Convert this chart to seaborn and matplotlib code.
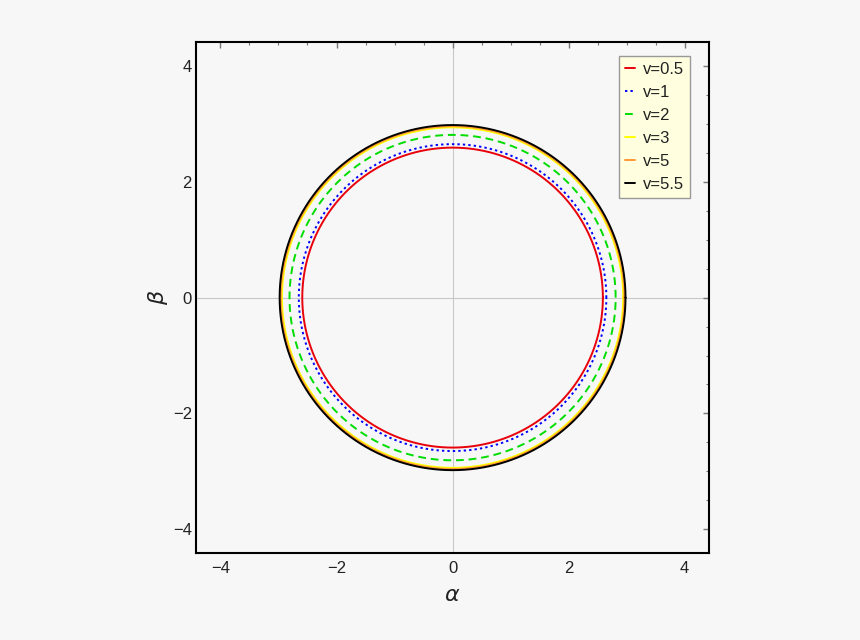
import numpy as np
import pandas as pd
import matplotlib
matplotlib.use("Agg")
import matplotlib.pyplot as plt
import seaborn as sns
from matplotlib.ticker import MultipleLocator

labels = ["v=0.5", "v=1", "v=2", "v=3", "v=5", "v=5.5"]
radii = [2.59, 2.65, 2.81, 2.94, 2.96, 2.98]
colors = ["#e8000b", "#0000ff", "#00dd00", "#ffff00", "#ff9933", "#000000"]
styles = ["-", (0, (1.2, 1.6)), (0, (4, 2.5)), "-", "-", "-"]
ticks = [-4, -2, 0, 2, 4]
tick_labels = ["\u22124", "\u22122", "0", "2", "4"]

sns.set_theme(style="white")
plt.rcParams['font.family'] = ['Liberation Sans', 'DejaVu Sans']
bg = "#f7f7f7"
fig = plt.figure(figsize=(8.6, 6.4), dpi=100, facecolor=bg)
ax = fig.add_axes([0.228, 0.136, 0.5965, 0.798])
ax.set_facecolor(bg)

ax.axhline(0, color="#c8c8c8", lw=0.8, zorder=0)
ax.axvline(0, color="#c8c8c8", lw=0.8, zorder=0)

t = np.linspace(0, 2 * np.pi, 721)
for lab, r, c, ls in zip(labels, radii, colors, styles):
    df = pd.DataFrame({"x": r * np.cos(t), "y": r * np.sin(t)})
    sns.lineplot(data=df, x="x", y="y", sort=False, estimator=None, ax=ax,
                 color=c, linestyle=ls, lw=1.4, label=lab)

ax.set_xlim(-4.42, 4.42)
ax.set_ylim(-4.41, 4.41)
ax.set_xticks(ticks)
ax.set_yticks(ticks)
ax.set_xticklabels(tick_labels)
ax.set_yticklabels(tick_labels)
ax.xaxis.set_minor_locator(MultipleLocator(0.5))
ax.yaxis.set_minor_locator(MultipleLocator(0.5))
ax.tick_params(which="major", direction="in", length=4, width=1, color="#777777",
               labelsize=12, labelcolor="#222222", top=True, right=True,
               labeltop=False, labelright=False)
ax.tick_params(axis="x", which="major", pad=6)
ax.tick_params(axis="y", which="major", pad=3)
ax.tick_params(which="minor", direction="in", length=2.5, width=0.8, color="#777777",
               top=True, right=True)
for s in ax.spines.values():
    s.set_color("black")
    s.set_linewidth(1.5)

ax.set_xlabel(r"$\alpha$", fontsize=16, labelpad=6, color="#222222")
ax.set_ylabel(r"$\beta$", fontsize=16, labelpad=2, color="#222222")

leg = ax.legend(loc="upper right", bbox_to_anchor=(0.963, 0.973), fontsize=12,
                handlelength=0.6, handletextpad=0.5, labelspacing=0.48,
                borderpad=0.35, borderaxespad=0.0, fancybox=False, framealpha=1)
leg.get_frame().set_facecolor("#ffffe0")
leg.get_frame().set_edgecolor("#999999")
leg.get_frame().set_linewidth(1.0)
for txt in leg.get_texts():
    txt.set_color("#222222")

fig.savefig("out.png", dpi=100, facecolor=bg)
